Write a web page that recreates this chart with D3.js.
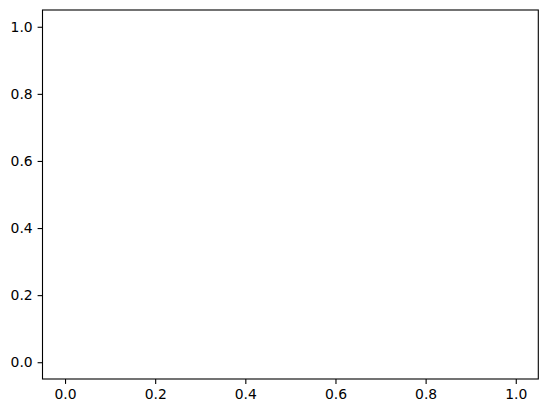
<!DOCTYPE html>
<html>
<head>
<meta charset="utf-8">
<script src="https://cdn.jsdelivr.net/npm/d3@7"></script>
<style>
  body { margin: 0; background: #fff; }
  svg { display: block; font-family: "DejaVu Sans", sans-serif; }
</style>
</head>
<body>
<svg id="chart" width="547" height="413"></svg>
<script>
// empty axes, matplotlib default limits
var X_DOMAIN = [-0.05, 1.05];
var Y_DOMAIN = [-0.05, 1.05];
var X_TICKS = [0.0, 0.2, 0.4, 0.6, 0.8, 1.0];
var Y_TICKS = [0.0, 0.2, 0.4, 0.6, 0.8, 1.0];

var WIDTH = 547, HEIGHT = 413;
var margin = { left: 42.5, right: 8.7, top: 10, bottom: 34 };

var svg = d3.select("#chart");
var x = d3.scaleLinear().domain(X_DOMAIN).range([margin.left, WIDTH - margin.right]);
var y = d3.scaleLinear().domain(Y_DOMAIN).range([HEIGHT - margin.bottom, margin.top]);

var fmt = d3.format(".1f");

var xAxis = svg.append("g")
  .attr("transform", "translate(0," + (HEIGHT - margin.bottom) + ")")
  .call(d3.axisBottom(x).tickValues(X_TICKS).tickFormat(fmt).tickSize(4.9).tickPadding(4.9));

var yAxis = svg.append("g")
  .attr("transform", "translate(" + margin.left + ",0)")
  .call(d3.axisLeft(y).tickValues(Y_TICKS).tickFormat(fmt).tickSize(4.9).tickPadding(4.9));

[xAxis, yAxis].forEach(function(g) {
  g.select(".domain").remove();
  g.selectAll("line").attr("stroke", "black").attr("stroke-width", 1.1);
  g.selectAll("text").attr("font-size", "13.9px").attr("fill", "black")
    .attr("font-family", "DejaVu Sans");
});

// frame
svg.append("rect")
  .attr("x", x(X_DOMAIN[0]))
  .attr("y", y(Y_DOMAIN[1]))
  .attr("width", x(X_DOMAIN[1]) - x(X_DOMAIN[0]))
  .attr("height", y(Y_DOMAIN[0]) - y(Y_DOMAIN[1]))
  .attr("fill", "none")
  .attr("stroke", "black")
  .attr("stroke-width", 1.1);
</script>
</body>
</html>
